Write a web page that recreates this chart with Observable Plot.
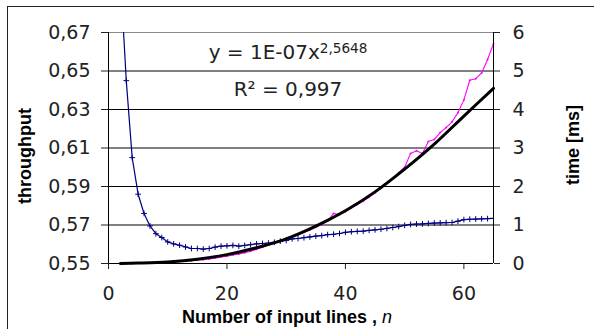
<!DOCTYPE html>
<html><head><meta charset="utf-8">
<script src="https://cdn.jsdelivr.net/npm/d3@7"></script>
<script src="https://cdn.jsdelivr.net/npm/@observablehq/plot@0.6"></script>
<style>
body{margin:0;background:#fff;}
#wrap{position:relative;width:594px;height:329px;overflow:hidden;background:#fff;}
#border{position:absolute;left:7px;top:6px;width:620px;height:360px;border-left:1px solid #222;border-top:1px solid #222;pointer-events:none;}
#wrap svg{position:absolute;left:0;top:0;}
</style></head><body><div id="wrap"><div id="border"></div></div>
<script>
// Number of input lines
const lines = [2,3,4,5,6,7,8,9,10,11,12,13,14,15,16,17,18,19,20,21,22,23,24,25,26,27,28,29,30,31,32,33,
  34,35,36,37,38,39,40,41,42,43,44,45,46,47,48,49,50,51,52,53,54,55,56,57,58,59,60,61,62,63,64,65];
// throughput (left axis)
const throughput = [0.700,0.645,0.605,0.586,0.576,0.5695,0.5655,0.5635,0.5612,0.5602,0.5595,0.5586,0.5578,0.5578,
  0.5575,0.5578,0.5585,0.5590,0.5592,0.5594,0.5590,0.5594,0.5598,0.5602,0.5604,0.5606,0.5610,0.5616,0.5620,0.5628,
  0.5630,0.5634,0.5638,0.5642,0.5645,0.5650,0.5652,0.5656,0.5662,0.5665,0.5667,0.5668,0.5672,0.5675,0.5678,0.5682,
  0.5687,0.5692,0.5698,0.5703,0.5705,0.5706,0.5708,0.5710,0.5711,0.5712,0.5713,0.5720,0.5728,0.5730,0.5731,0.5732,
  0.5733,0.5734];
// measured time [ms] (right axis)
const measuredTime = [0.00,0.00,0.00,0.01,0.01,0.02,0.02,0.03,0.03,0.04,0.05,0.06,0.07,0.09,0.10,0.12,0.14,0.17,
  0.19,0.22,0.25,0.28,0.32,0.37,0.42,0.48,0.53,0.58,0.63,0.69,0.75,0.81,0.87,0.94,1.01,1.10,1.30,1.27,1.35,1.45,
  1.53,1.62,1.72,1.84,1.96,2.08,2.22,2.36,2.50,2.86,2.93,2.86,3.17,3.22,3.40,3.53,3.68,3.92,4.25,4.76,4.80,4.95,
  5.30,5.71];
// power trend line (right axis)
const fitLines = [2,5,10,15,20,25,30,35,40,45,50,55,60,65];
const fitTime = [0.00,0.01,0.04,0.11,0.23,0.41,0.64,0.97,1.37,1.86,2.45,3.10,3.83,4.55];

const leftTicks = [0.55,0.57,0.59,0.61,0.63,0.65,0.67];
const rightTicks = [0,1,2,3,4,5,6];
const xTicks = [0,20,40,60];
const equation = ["y = 1E-07x", "2,5648"];
const rSquared = "R² = 0,997";
const xLabel = ["Number of input lines , ", "n"];
const yLabelLeft = "throughput";
const yLabelRight = "time [ms]";

const leftMin = 0.55, leftStep = 0.02; // right axis unit = one left gridline step
const toLeft = t => leftMin + t * leftStep;

const blue = lines.map((n, i) => ({n, v: throughput[i]}));
const mag = lines.map((n, i) => ({n, v: toLeft(measuredTime[i])}));
const fit = fitLines.map((n, i) => ({n, v: toLeft(fitTime[i])}));

const lblFont = "Liberation Sans, Arial, sans-serif";

const plot = Plot.plot({
  width: 594, height: 329,
  marginLeft: 108, marginRight: 101, marginTop: 32, marginBottom: 66,
  x: {domain: [0, 65]},
  y: {domain: [0.55, 0.67]},
  style: {fontFamily: "DejaVu Sans", fontSize: "19px", color: "#222", background: "transparent", overflow: "visible"},
  marks: [
    Plot.ruleY(leftTicks.slice(1, -1), {stroke: "#000", strokeWidth: 1}),
    Plot.ruleY([leftTicks[leftTicks.length - 1]], {stroke: "#8a8a8a", strokeWidth: 1}),
    Plot.line(blue, {x: "n", y: "v", stroke: "#000080", strokeWidth: 1.2, clip: true}),
    Plot.dot(blue, {x: "n", y: "v", symbol: "plus", r: 2, stroke: "#000080", strokeWidth: 1, clip: true}),
    Plot.line(mag, {x: "n", y: "v", stroke: "#ff00ff", strokeWidth: 1.1}),
    Plot.dot(mag, {x: "n", y: "v", r: 1, fill: "#ff00ff", stroke: null}),
    Plot.line(fit, {x: "n", y: "v", stroke: "#000", strokeWidth: 3, curve: "catmull-rom"}),
    Plot.ruleY([leftMin], {stroke: "#000"}),
    Plot.ruleX([0, 65], {stroke: "#000"}),
    Plot.axisY({ticks: leftTicks, tickFormat: d => d.toFixed(2).replace(".", ","), tickSize: 7, tickPadding: 11, label: null, letterSpacing: 1}),
    Plot.axisY({anchor: "right", ticks: rightTicks.map(toLeft), tickFormat: d => String(Math.round((d - leftMin) / leftStep)), tickSize: 6, tickPadding: 13, label: null}),
    Plot.axisX({ticks: xTicks, tickSize: 6, tickPadding: 17, label: null, letterSpacing: 1}),
    Plot.text([yLabelLeft], {frameAnchor: "left", text: d => d, rotate: -90, textAnchor: "middle", lineAnchor: "middle", dx: -83, dy: 8, fontWeight: "bold", fontFamily: lblFont, fontSize: 18, fill: "#000"}),
    Plot.text([yLabelRight], {frameAnchor: "right", text: d => d, rotate: -90, textAnchor: "middle", lineAnchor: "middle", dx: 80, dy: -3, fontWeight: "bold", fontFamily: lblFont, fontSize: 18, fill: "#000"}),
    Plot.text([xLabel[0]], {frameAnchor: "bottom", text: d => d, lineAnchor: "middle", dx: -14, dy: 54, fontWeight: "bold", fontFamily: lblFont, fontSize: 18, fill: "#000"}),
    Plot.text([equation[0]], {frameAnchor: "top", text: d => d, dx: -13, dy: 12, fontSize: 20, fill: "#222"}),
    Plot.text([rSquared], {frameAnchor: "top", text: d => d, dx: -13, dy: 49, fontSize: 20, fill: "#222", letterSpacing: 1})
  ]
});

document.getElementById("wrap").appendChild(plot);
const svg = d3.select(plot);
svg.selectAll("text").filter(function() { return this.textContent === equation[0]; })
  .append("tspan").attr("dy", "-0.45em").attr("font-size", "0.68em").text(equation[1]);
svg.selectAll("text").filter(function() { return this.textContent === xLabel[0]; })
  .append("tspan").attr("font-style", "italic").attr("font-weight", "normal").text(xLabel[1]);
</script>
</body></html>
